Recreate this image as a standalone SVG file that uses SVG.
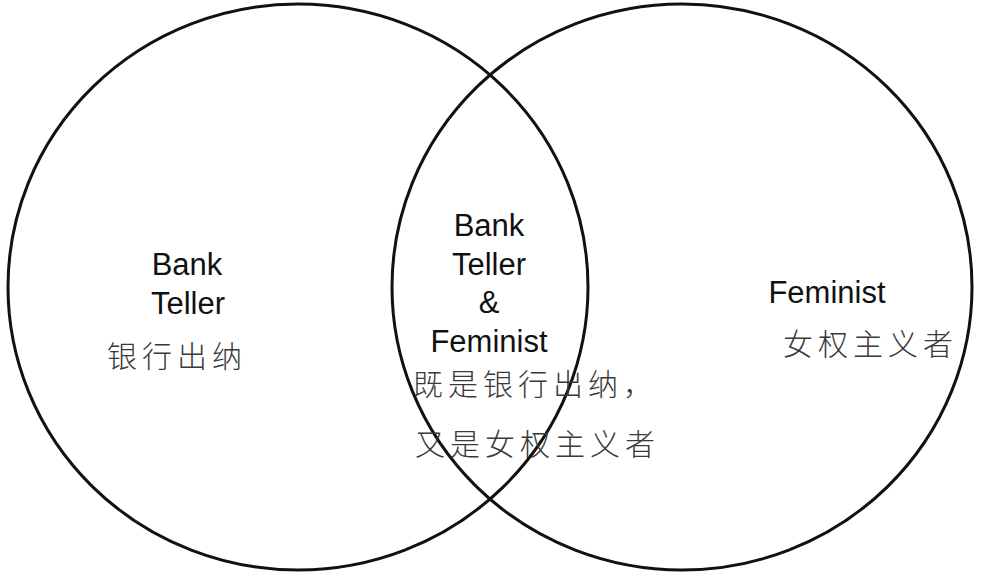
<svg xmlns="http://www.w3.org/2000/svg" width="981" height="573" viewBox="0 0 981 573">
<style>
.c{fill:none;stroke:#111;stroke-width:3}
.en{font-family:"Liberation Sans",Arial,sans-serif;font-size:31px;fill:#111;text-anchor:middle}
.zh{font-family:"Noto Sans CJK SC",sans-serif;font-size:30px;fill:#3a3a3a;letter-spacing:5px;font-weight:300}
</style>
<rect width="981" height="573" fill="#fff"/>
<g id="bank-teller">
<ellipse class="c" cx="298" cy="287" rx="290" ry="283"/>
<text class="en" x="187" y="275">Bank</text>
<text class="en" x="188" y="314">Teller</text>
<text class="zh" x="107" y="367">银行出纳</text>
</g>
<g id="feminist">
<ellipse class="c" cx="682" cy="287" rx="290" ry="283"/>
<text class="en" x="827" y="303">Feminist</text>
<text class="zh" x="783" y="355">女权主义者</text>
</g>
<g id="both">
<text class="en" x="489" y="236">Bank</text>
<text class="en" x="489" y="275">Teller</text>
<text class="en" x="489" y="313">&amp;</text>
<text class="en" x="489" y="352">Feminist</text>
<text class="zh" x="413" y="395">既是银行出纳，</text>
<text class="zh" x="415" y="455">又是女权主义者</text>
</g>
<g id="connectors"></g>
</svg>
